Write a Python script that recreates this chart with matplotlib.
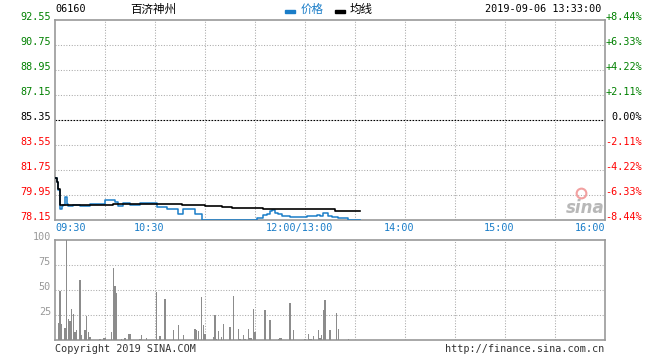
import matplotlib
matplotlib.use('Agg')
from matplotlib import pyplot as plt
import matplotlib.transforms as mtransforms

plt.rcParams['font.family'] = ['DejaVu Sans Mono', 'Noto Sans CJK SC']

# price change points (time, price)
price_times = ['09:30', '09:31', '09:32', '09:33', '09:34', '09:35', '09:36', '09:37', '09:38',
               '09:41', '09:45', '09:47', '09:51', '10:00', '10:06', '10:08', '10:11', '10:15',
               '10:21', '10:31', '10:37', '10:44', '10:47', '10:54', '10:58', '11:31', '11:35',
               '11:37', '11:39', '11:40', '11:42', '11:44', '11:46', '11:51', '11:52', '13:01',
               '13:07', '13:09', '13:11', '13:14', '13:16', '13:20', '13:26', '13:33']
prices = [81.20, 80.90, 80.30, 78.95, 79.18, 79.22, 79.83, 79.28, 79.13,
          79.20, 79.13, 79.18, 79.28, 79.57, 79.42, 79.18, 79.37, 79.20,
          79.37, 79.11, 78.94, 78.56, 78.94, 78.58, 78.15, 78.27, 78.51,
          78.58, 78.82, 78.87, 78.68, 78.58, 78.44, 78.35, 78.39, 78.44,
          78.51, 78.44, 78.63, 78.44, 78.39, 78.27, 78.15, 78.15]

avg_times = ['09:30', '09:31', '09:32', '09:33', '09:34', '10:05', '10:46', '11:00', '11:10',
             '11:16', '11:35', '13:18', '13:33']
avg_prices = [81.20, 80.90, 80.35, 79.25, 79.21, 79.28, 79.21, 79.16, 79.09,
              79.01, 78.92, 78.82, 78.82]

vol_times = ['09:32', '09:33', '09:34', '09:36', '09:37', '09:38', '09:39', '09:40', '09:41',
             '09:42', '09:43', '09:45', '09:46', '09:48', '09:49', '09:50', '09:51', '09:57',
             '09:59', '10:00', '10:04', '10:05', '10:06', '10:07', '10:10', '10:12', '10:14',
             '10:15', '10:21', '10:22', '10:25', '10:31', '10:33', '10:36', '10:41', '10:44',
             '10:47', '10:54', '10:55', '10:56', '10:58', '10:59', '11:00', '11:05', '11:06',
             '11:07', '11:08', '11:10', '11:11', '11:15', '11:17', '11:20', '11:21', '11:23',
             '11:24', '11:26', '11:27', '11:28', '11:29', '11:30', '11:36', '11:39', '11:44',
             '11:45', '11:46', '11:51', '11:53', '13:00', '13:02', '13:03', '13:04', '13:05',
             '13:08', '13:09', '13:10', '13:11', '13:12', '13:15', '13:19', '13:20', '13:26']
volumes = [17, 49, 16, 12, 100, 21, 19, 31, 26,
           8, 10, 60, 5, 10, 24, 8, 3, 1,
           2, 2, 8, 72, 54, 47, 1, 2, 6,
           6, 1, 5, 2, 48, 4, 41, 10, 15,
           5, 11, 10, 9, 43, 15, 6, 3, 25,
           1, 9, 3, 16, 13, 44, 11, 1, 5,
           1, 11, 2, 2, 31, 8, 30, 20, 1,
           2, 2, 37, 10, 1, 6, 1, 1, 4,
           10, 2, 5, 30, 40, 10, 27, 11, 1]

prev_close = 85.35
price_levels = [92.55, 90.75, 88.95, 87.15, 85.35, 83.55, 81.75, 79.95, 78.15]
pct_labels = ['+8.44%', '+6.33%', '+4.22%', '+2.11%', '0.00%', '-2.11%', '-4.22%', '-6.33%', '-8.44%']
vol_levels = [100, 75, 50, 25]
time_ticks = ['09:30', '10:30', '12:00/13:00', '14:00', '15:00', '16:00']


def tmin(s):
    s = s.split('/')[-1]
    h, m = map(int, s.split(':'))
    t = h * 60 + m
    return t - 570 if t <= 720 else t - 780 + 150


W, H = 660, 360
fig = plt.figure(figsize=(6.6, 3.6), dpi=100)
ax = fig.add_axes([55 / W, 1 - 220 / H, 550 / W, 200 / H])
ax2 = fig.add_axes([55 / W, 1 - 340 / H, 550 / W, 100 / H])

blue = '#1a7dc8'
gray = '#999999'
grid_kw = dict(color='#aaaaaa', lw=0.75, linestyle=(0, (1, 1.6)), zorder=0)

for a in (ax, ax2):
    a.set_xlim(0, 330)
    a.set_xticks([])
    a.set_yticks([])
    for sp in a.spines.values():
        sp.set_color(gray)
        sp.set_linewidth(1.2)
    for k in range(30, 330, 30):
        a.axvline(k, **grid_kw)

ax.set_ylim(78.15, 92.55)
for lv in price_levels[1:-1]:
    if lv == prev_close:
        ax.axhline(lv, color='black', lw=0.8, linestyle=(0, (1.5, 1.2)), zorder=1)
    else:
        ax.axhline(lv, **grid_kw)

px = [tmin(t) for t in price_times]
ax.plot(px, prices, color=blue, lw=1.1, drawstyle='steps-post', zorder=3)
ax_x = [tmin(t) for t in avg_times]
ax.plot(ax_x, avg_prices, color='black', lw=1.2, drawstyle='steps-post', zorder=4)

def off(dx, dy):
    return mtransforms.ScaledTranslation(dx / 100, dy / 100, fig.dpi_scale_trans)

ytr = ax.get_yaxis_transform()
for lv, pl in zip(price_levels, pct_labels):
    if lv > prev_close:
        c = '#008000'
    elif lv < prev_close:
        c = '#ff0000'
    else:
        c = 'black'
    ax.text(0, lv, '%.2f' % lv, color=c, fontsize=7.3, ha='right', va='center',
            transform=ytr + off(-4, 3), clip_on=False)
    ax.text(1, lv, pl, color=c, fontsize=7.3, ha='right', va='center',
            transform=ytr + off(37, 3), clip_on=False)

xtr = ax.get_xaxis_transform()
for lab in time_ticks:
    m = tmin(lab)
    if m == 0:
        ha, dx = 'left', 0
    elif m == 330:
        ha, dx = 'right', 0
    else:
        ha, dx = 'center', -6
    ax.text(m, 0, lab, color=blue, fontsize=7.3, ha=ha, va='center',
            transform=xtr + off(dx, -8), clip_on=False)

# sina watermark
ax.text(318, 79.0, 'sina', color='#b8b8b8', fontsize=12, fontweight='bold', style='italic',
        ha='center', va='center', family='DejaVu Sans', zorder=2)
ax.plot([315.5], [80.1], marker='o', ms=7, mfc='none', mec='#f2a0a0', mew=1.5, zorder=2)

ax2.set_ylim(0, 100)
for lv in vol_levels[1:]:
    ax2.axhline(lv, **grid_kw)
vx = [tmin(t) for t in vol_times]
ax2.bar(vx, volumes, width=0.85, color='#8c8c8c', lw=0, zorder=3)
ytr2 = ax2.get_yaxis_transform()
for lv in vol_levels:
    ax2.text(0, lv, str(lv), color=gray, fontsize=7.3, ha='right', va='center',
             transform=ytr2 + off(-4, 3), clip_on=False)

# header
fig.text(55 / W, 1 - 9 / H, '06160', fontsize=7.3, ha='left', va='center')
fig.text(130 / W, 1 - 9 / H, '百济神州', fontsize=8.3, ha='left', va='center',
         family=['Noto Sans CJK SC'])
fig.patches.append(plt.Rectangle((285 / W, 1 - 13 / H), 10 / W, 3 / H, color=blue,
                                 transform=fig.transFigure, figure=fig))
fig.text(301 / W, 1 - 9 / H, '价格', fontsize=8.3, ha='left', va='center', color=blue,
         family=['Noto Sans CJK SC'])
fig.patches.append(plt.Rectangle((335 / W, 1 - 13 / H), 10 / W, 3 / H, color='black',
                                 transform=fig.transFigure, figure=fig))
fig.text(350 / W, 1 - 9 / H, '均线', fontsize=8.3, ha='left', va='center',
         family=['Noto Sans CJK SC'])
fig.text(601 / W, 1 - 9 / H, '2019-09-06 13:33:00', fontsize=7.3, ha='right', va='center')

# footer
fig.text(55 / W, 1 - 349 / H, 'Copyright 2019 SINA.COM', fontsize=7.3, ha='left', va='center',
         color='#333333')
fig.text(604 / W, 1 - 349 / H, 'http://finance.sina.com.cn', fontsize=7.3, ha='right',
         va='center', color='#333333')

fig.savefig('out.png', dpi=100, facecolor='white')
